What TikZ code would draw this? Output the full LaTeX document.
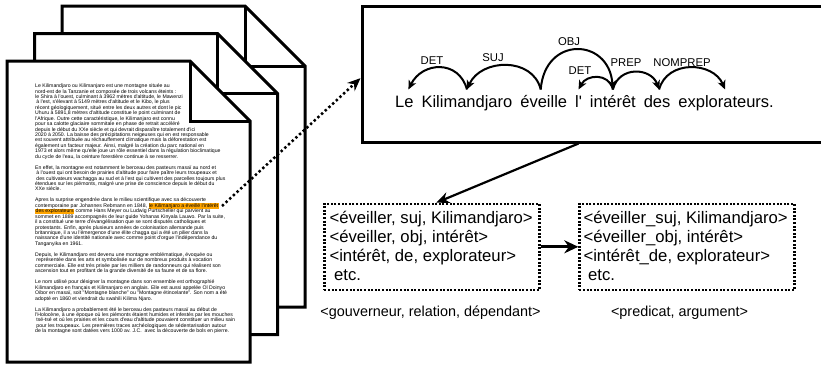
\documentclass[tikz,border=0pt]{standalone}
\usepackage{fontspec}
\setmainfont{Liberation Sans}[Ligatures=TeXOff]
\usetikzlibrary{arrows.meta,calc}
\definecolor{hlorange}{RGB}{255,165,0}
\newcommand\hlt[1]{{\setlength{\fboxsep}{0.5pt}\colorbox{hlorange}{#1}}}
\begin{document}
\begin{tikzpicture}[x=1pt,y=-1pt,
  page/.style={draw, line width=3pt, fill=white, line join=miter},
  fold/.style={draw, line width=3pt, line join=miter},
  pagetext/.style={font={\fontsize{5.15}{5.43}\selectfont\lineskiplimit=-5pt}, align=left, inner sep=0pt, anchor=north west},
  bigbox/.style={draw, line width=3pt, inner sep=0pt},
  word/.style={font=\fontsize{16.5}{18}\selectfont, inner sep=0pt, anchor=base west},
  dep/.style={line width=2pt, -{Stealth[length=9pt,width=8pt,inset=2.5pt]}},
  deplabel/.style={font=\fontsize{11.3}{12}\selectfont, inner sep=0pt, anchor=base},
  dotbox/.style={draw, line width=2.2pt, dash pattern=on 2pt off 1.6pt, minimum width=215pt, minimum height=86pt, inner sep=0pt, anchor=north west},
  boxtext/.style={font=\fontsize{16.7}{18.9}\selectfont, align=left, inner sep=0pt, anchor=north west},
  captiontext/.style={font=\fontsize{14.4}{16}\selectfont, inner sep=0pt},
  dotarrow/.style={line width=2.5pt, dash pattern=on 2.4pt off 2.6pt, -{Stealth[length=13pt,width=11pt]}},
  thinarrow/.style={line width=2.2pt, -{Stealth[length=13pt,width=11pt]}},
  bigarrow/.style={line width=3pt, -{Stealth[length=14pt,width=13pt]}}
]
\useasboundingbox (0,0) rectangle (821,364);
\clip (0,0) rectangle (821,364);
\fill[white] (0,0) rectangle (821,364);

% stack of pages
\draw[page] (62,6) -- (245,6) -- (305,66) -- (305,307) -- (62,307) -- cycle;
\draw[fold] (245,6) -- (245,66) -- (305,66);
\draw[page] (34.5,33.5) -- (217.5,33.5) -- (277.5,93.5) -- (277.5,334.5) -- (34.5,334.5) -- cycle;
\draw[fold] (217.5,33.5) -- (217.5,93.5) -- (277.5,93.5);
\draw[page] (7,61) -- (190,61) -- (250,121) -- (250,362) -- (7,362) -- cycle;
\draw[fold] (190,61) -- (190,121) -- (250,121);

\node[pagetext] (ptext) at (35,83.6) {%
Le Kilimandjaro ou Kilimanjaro est une montagne située au\\
nord-est de la Tanzanie et composée de trois volcans éteints :\\
le Shira à l'ouest, culminant à 3962 mètres d'altitude, le Mawenzi\\
\hspace*{1.2pt}à l'est, s'élevant à 5149 mètres d'altitude et le Kibo, le plus\\
récent géologiquement, situé entre les deux autres et dont le pic\\
Uhuru à 5891,8 mètres d'altitude constitue le point culminant de\\
l'Afrique. Outre cette caractéristique, le Kilimanjaro est connu\\
pour sa calotte glaciaire sommitale en phase de retrait accéléré\\
depuis le début du XXe siècle et qui devrait disparaître totalement d'ici\\
2020 à 2050. La baisse des précipitations neigeuses qui en est responsable\\
est souvent attribuée au réchauffement climatique mais la déforestation est\\
également un facteur majeur. Ainsi, malgré la création du parc national en\\
1973 et alors même qu'elle joue un rôle essentiel dans la régulation bioclimatique\\
du cycle de l'eau, la ceinture forestière continue à se resserrer.\\[5.6pt]
En effet, la montagne est notamment le berceau des pasteurs masaï au nord et\\
\hspace*{1.2pt}à l'ouest qui ont besoin de prairies d'altitude pour faire paître leurs troupeaux et\\
\hspace*{1.2pt}des cultivateurs wachagga au sud et à l'est qui cultivent des parcelles toujours plus\\
étendues sur les piémonts, malgré une prise de conscience depuis le début du\\
XXe siècle.\\[5.6pt]
Apres la surprise engendrée dans le milieu scientifique avec sa découverte\\
contemporaine par Johannes Rebmann en 1848, \hlt{le Kilimanjaro a éveillé l'intérêt}\\
\hlt{des explorateurs} comme Hans Meyer ou Ludwig Purtscheller qui parvient au\\
sommet en 1889 accompagnés de leur guide Yohanas Kinyala Lauwo. Par la suite,\\
il a constitué une terre d'évangélisation que se sont disputés catholiques et\\
protestants. Enfin, après plusieurs années de colonisation allemande puis\\
britannique, il a vu l'émergence d'une élite chagga qui a été un pilier dans la\\
naissance d'une identité nationale avec comme point d'orgue l'indépendance du\\
Tanganyika en 1961.\\[5.6pt]
Depuis, le Kilimandjaro est devenu une montagne emblématique, évoquée ou\\
\hspace*{1.2pt}représentée dans les arts et symbolisée sur de nombreux produits à vocation\\
commerciale. Elle est très prisée par les milliers de randonneurs qui réalisent son\\
ascension tout en profitant de la grande diversité de sa faune et de sa flore.\\[5.6pt]
Le nom utilisé pour désigner la montagne dans son ensemble est orthographié\\
Kilimandjaro en français et Kilimanjaro en anglais. Elle est aussi appelée Ol Doinyo\\
Oibor en masaï, soit "Montagne blanche" ou "Montagne étincelante". Son nom a été\\
adopté en 1860 et viendrait du swahili Kilima Njaro.\\[5.6pt]
La Kilimandjaro a probablement été le berceau des pasteurs masaï au début de\\
l'Holocène, à une époque où les piémonts étaient humides et infestés par les mouches\\
\hspace*{1.2pt}tsé-tsé et où les prairies et les cours d'eau d'altitude pouvaient constituer un milieu sain\\
\hspace*{1.2pt}pour les troupeaux. Les premières traces archéologiques de sédentarisation autour\\
de la montagne sont datées vers 1000 av. J.C.\ \ avec la découverte de bols en pierre.};
\coordinate (hlend) at (222,206);

% top box with parsed sentence
\node[bigbox, minimum width=468pt, minimum height=136pt] (topbox) at (596,74) {};
\node[word] (w1) at (395,107) {Le};
\node[word] (w2) at ([xshift=7.6pt]w1.base east) {Kilimandjaro};
\node[word] (w3) at ([xshift=7.6pt]w2.base east) {éveille};
\node[word] (w4) at ([xshift=7.6pt]w3.base east) {l'};
\node[word] (w5) at ([xshift=7.6pt]w4.base east) {intérêt};
\node[word] (w6) at ([xshift=7.6pt]w5.base east) {des};
\node[word] (w7) at ([xshift=7.6pt]w6.base east) {explorateurs.};

\coordinate (pLe) at ($(w1 |- 0,89.5)+(4,0)$);
\coordinate (pKili) at ($(w2 |- 0,89.5)+(0,0)$);
\coordinate (pEv) at ($(w3 |- 0,89.5)+(-3,0)$);
\coordinate (pL) at ($(w4 |- 0,89.5)+(0,0)$);
\coordinate (pInt) at ($(w5 |- 0,89.5)+(0,0)$);
\coordinate (pDes) at ($(w6 |- 0,89.5)+(2,0)$);
\coordinate (pExp) at ($(w7 |- 0,89.5)+(-1,0)$);

\draw[dep] (pKili) .. controls +(-8,-30) and +(14,-28) .. (pLe);
\draw[dep] (pEv) .. controls +(-8,-33) and +(14,-31) .. (pKili);
\draw[dep] (pEv) .. controls +(4,-54) and +(-4,-52) .. (pInt);
\draw[dep] (pInt) .. controls +(-4,-17) and +(8,-15) .. (pL);
\draw[dep] (pInt) .. controls +(6,-24) and +(-8,-22) .. (pDes);
\draw[dep] (pDes) .. controls +(8,-30) and +(-12,-28) .. (pExp);

\node[deplabel] (lDET1) at (432,64) {DET};
\node[deplabel] (lSUJ) at (493,61.5) {SUJ};
\node[deplabel] (lOBJ) at (569,45) {OBJ};
\node[deplabel] (lDET2) at (580,74) {DET};
\node[deplabel] (lPREP) at (626,66) {PREP};
\node[deplabel] (lNOM) at (682,66) {NOMPREP};

% dotted boxes
\node[dotbox] (lbox) at (323.3,202.7) {};
\node[dotbox] (rbox) at (578.3,202.7) {};
\node[boxtext] (ltext) at (329.3,210.9) {<éveiller, suj, Kilimandjaro>\\<éveiller, obj, intérêt>\\<intérêt, de, explorateur>\\\hspace*{4.6pt}etc.};
\node[boxtext] (rtext) at (583.3,210.9) {<éveiller\_suj, Kilimandjaro>\\<éveiller\_obj, intérêt>\\<intérêt\_de, explorateur>\\\hspace*{4.6pt}etc.};

\node[captiontext] (cap1) at (430.5,313) {<gouverneur, relation, dépendant>};
\node[captiontext] (cap2) at (679.5,313) {<predicat, argument>};

% connectors
\draw[dotarrow] (hlend) -- ($(topbox.north west)!0.53!(topbox.south west)$);
\draw[thinarrow] ($(topbox.south west)!0.463!(topbox.south east)$) -- ($(lbox.north west)!0.52!(lbox.north east)$);
\draw[bigarrow] (lbox.east) -- (rbox.west);
\end{tikzpicture}
\end{document}
